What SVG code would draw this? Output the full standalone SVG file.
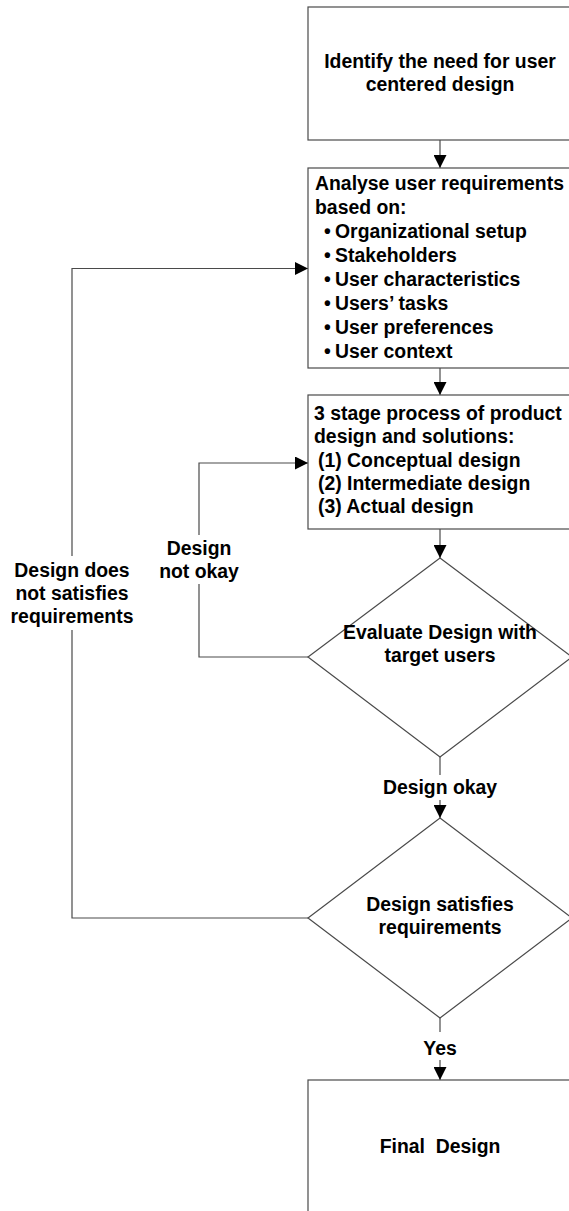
<svg xmlns="http://www.w3.org/2000/svg" width="569" height="1211" viewBox="0 0 569 1211">
<style>
.box{fill:#fff;stroke:#4a4a4a;stroke-width:1.2}
.ln{fill:none;stroke:#4a4a4a;stroke-width:1.2}
.t{font-family:"Liberation Sans",Arial,sans-serif;font-weight:bold;font-size:19.4px;fill:#000}
.c{text-anchor:middle}
</style>
<defs>
<marker id="arr" markerWidth="13" markerHeight="13" refX="13" refY="6.5" orient="auto" markerUnits="userSpaceOnUse">
<path d="M0,0 L13,6.5 L0,13 z" fill="#000"/>
</marker>
</defs>
<rect width="569" height="1211" fill="#fff"/>
<g id="connectors">
<line class="ln" x1="440" y1="140" x2="440" y2="168" marker-end="url(#arr)"/>
<line class="ln" x1="440" y1="368" x2="440" y2="395" marker-end="url(#arr)"/>
<line class="ln" x1="440" y1="529" x2="440" y2="558" marker-end="url(#arr)"/>
<line class="ln" x1="440" y1="757" x2="440" y2="775"/>
<line class="ln" x1="440" y1="800" x2="440" y2="818" marker-end="url(#arr)"/>
<line class="ln" x1="440" y1="1018" x2="440" y2="1032"/>
<line class="ln" x1="440" y1="1060" x2="440" y2="1080" marker-end="url(#arr)"/>
<path class="ln" d="M308,918 H72 V630"/>
<path class="ln" d="M72,556 V268.5 H308" marker-end="url(#arr)"/>
<path class="ln" d="M308,657 H199 V584"/>
<path class="ln" d="M199,535 V463 H308" marker-end="url(#arr)"/>
<text class="t c" x="440" y="794">Design okay</text>
<text class="t c" x="440" y="1055">Yes</text>
<text class="t c" x="72" y="577">Design does</text>
<text class="t c" x="72" y="600">not satisfies</text>
<text class="t c" x="72" y="623">requirements</text>
<text class="t c" x="199" y="555">Design</text>
<text class="t c" x="199" y="578">not okay</text>
</g>
<g id="identify">
<rect class="box" x="308" y="7" width="264" height="133"/>
<text class="t c" x="440" y="68">Identify the need for user</text>
<text class="t c" x="440" y="91">centered design</text>
</g>
<g id="analyse">
<rect class="box" x="308" y="168" width="264" height="200"/>
<text class="t" x="315" y="190">Analyse user requirements</text>
<text class="t" x="315" y="214">based on:</text>
<text class="t"><tspan x="324" y="238">•</tspan><tspan x="335" y="238">Organizational setup</tspan></text>
<text class="t"><tspan x="324" y="262">•</tspan><tspan x="335" y="262">Stakeholders</tspan></text>
<text class="t"><tspan x="324" y="286">•</tspan><tspan x="335" y="286">User characteristics</tspan></text>
<text class="t"><tspan x="324" y="310">•</tspan><tspan x="335" y="310">Users’ tasks</tspan></text>
<text class="t"><tspan x="324" y="334">•</tspan><tspan x="335" y="334">User preferences</tspan></text>
<text class="t"><tspan x="324" y="358">•</tspan><tspan x="335" y="358">User context</tspan></text>
</g>
<g id="stage">
<rect class="box" x="308" y="395" width="264" height="134"/>
<text class="t" x="314" y="420">3 stage process of product</text>
<text class="t" x="314" y="443">design and solutions:</text>
<text class="t" x="318" y="467">(1) Conceptual design</text>
<text class="t" x="318" y="490">(2) Intermediate design</text>
<text class="t" x="318" y="513">(3) Actual design</text>
</g>
<g id="evaluate">
<polygon class="box" points="440,558 572,657 440,757 308,657"/>
<text class="t c" x="440" y="639">Evaluate Design with</text>
<text class="t c" x="440" y="662">target users</text>
</g>
<g id="satisfies">
<polygon class="box" points="440,818 572,918 440,1018 308,918"/>
<text class="t c" x="440" y="911">Design satisfies</text>
<text class="t c" x="440" y="934">requirements</text>
</g>
<g id="final">
<rect class="box" x="308" y="1080" width="264" height="150"/>
<text class="t c" x="440" y="1153" xml:space="preserve">Final  Design</text>
</g>
</svg>
